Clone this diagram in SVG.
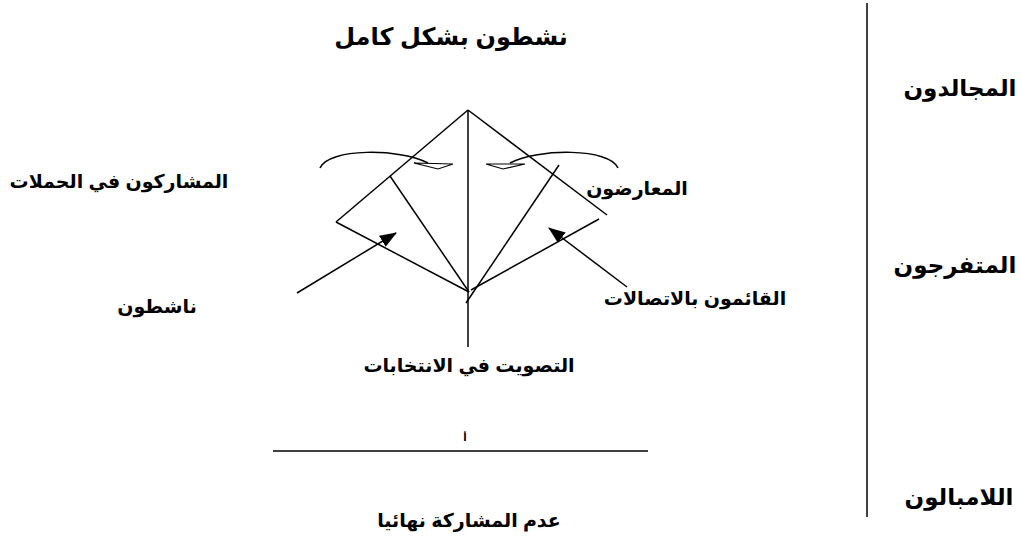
<svg xmlns="http://www.w3.org/2000/svg" width="1021" height="542" viewBox="0 0 1021 542">
<style>
.ln{stroke:#000;stroke-width:1.5;fill:none}
.t{font-family:"Liberation Sans","DejaVu Sans",sans-serif;font-weight:bold;font-size:19px;fill:#000;text-anchor:middle}
.big{font-size:23px}
.ah{fill:#fff;stroke:#000;stroke-width:1.2}
</style>
<defs>
<marker id="tri" markerWidth="17" markerHeight="13" refX="16" refY="6.5" orient="auto" markerUnits="userSpaceOnUse" viewBox="0 0 17 13">
<path d="M0,0 L17,6.5 L0,13 z" fill="#000"/>
</marker>
</defs>
<rect width="1021" height="542" fill="#fff"/>
<g id="connectors">
<line class="ln" x1="468" y1="110" x2="468" y2="347"/>
<line class="ln" x1="468" y1="110" x2="336" y2="222"/>
<line class="ln" x1="336" y1="222" x2="469" y2="292"/>
<line class="ln" x1="390" y1="176" x2="469" y2="292"/>
<line class="ln" x1="468" y1="110" x2="607" y2="215"/>
<line class="ln" x1="559" y1="165" x2="466" y2="303"/>
<line class="ln" x1="599" y1="219" x2="471" y2="290"/>
<line class="ln" x1="297" y1="293" x2="396" y2="233" marker-end="url(#tri)"/>
<line class="ln" x1="627" y1="287" x2="549" y2="228" marker-end="url(#tri)"/>
<line class="ln" x1="273" y1="451" x2="648" y2="451"/>
<line class="ln" x1="867" y1="3" x2="867" y2="517"/>
<path class="ln" stroke-width="2.6" d="M320,168 C328,148 400,148 428,163"/>
<polygon class="ah" points="414,163 453,164 438,169"/>
<path class="ln" stroke-width="2.6" d="M618,168 C610,148 538,148 510,163"/>
<polygon class="ah" points="486,164 525,164 503,169"/>
</g>
<g id="title"><text class="t" x="451" y="45" style="font-size:24px">نشطون بشكل كامل</text></g>
<g id="n1"><text class="t big" x="960" y="96">المجالدون</text></g>
<g id="n2"><text class="t big" x="955" y="273">المتفرجون</text></g>
<g id="n3"><text class="t big" x="959" y="505">اللامبالون</text></g>
<g id="n4"><text class="t" x="119" y="188">المشاركون في الحملات</text></g>
<g id="n5"><text class="t" x="157" y="313">ناشطون</text></g>
<g id="n6"><text class="t" x="637" y="195">المعارضون</text></g>
<g id="n7"><text class="t" x="695" y="305">القائمون بالاتصالات</text></g>
<g id="n8"><text class="t" x="469" y="372">التصويت في الانتخابات</text></g>
<g id="n9"><text class="t" x="465" y="441" style="font-size:10px">أ</text></g>
<g id="n10"><text class="t" x="469" y="527">عدم المشاركة نهائيا</text></g>
</svg>
